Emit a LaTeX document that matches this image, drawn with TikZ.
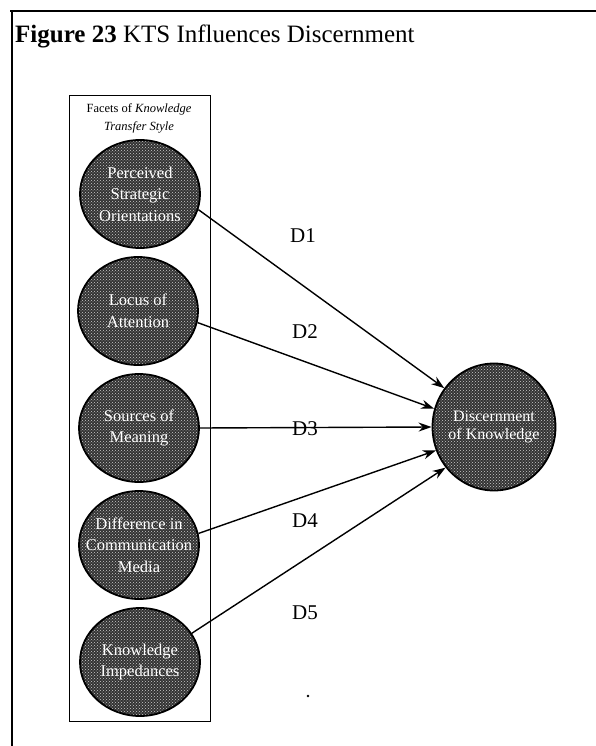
\documentclass[tikz,border=0pt]{standalone}
\usepackage{fontspec}
\setmainfont{Liberation Serif}
\usetikzlibrary{shapes.geometric,arrows.meta,patterns}
\begin{document}
\begin{tikzpicture}[x=1pt,y=-1pt,
  facet/.style={ellipse, draw=black, line width=1.8pt,
    minimum width=120pt, minimum height=108pt, inner sep=0pt,
    preaction={fill=black!80},
    pattern=crosshatch dots, pattern color=white!80!black},
  facettext/.style={text=white, align=center, inner sep=0pt,
    font=\fontsize{16.5}{21.5}\selectfont},
  link/.style={line width=1.4pt, -{Stealth[length=13pt,width=9pt]}},
  dlabel/.style={font=\fontsize{21}{24}\selectfont, anchor=center}]
  \useasboundingbox (0,0) rectangle (596,746);
  % open frame: top and left rules
  \draw[line width=2.6pt] (10,11) -- (596,11);
  \draw[line width=2.6pt] (12,11) -- (12,746);
  % title
  \node[anchor=base west, inner sep=0pt, font=\fontsize{25}{28}\selectfont]
    (title) at (15,43) {\textbf{Figure 23} KTS Influences Discernment};
  % box holding the facets
  \node[draw=black, line width=0.8pt, minimum width=141pt, minimum height=626pt,
    inner sep=0pt] (facetbox) at (139.5,408) {};
  \node[align=center, font=\fontsize{12.5}{18}\selectfont, inner sep=0pt]
    (boxtitle) at (139,118) {Facets of \textit{Knowledge}\\\textit{Transfer Style}};
  % facets
  \node[facet] (f1) at (140,194) {};
  \node[facet] (f2) at (138,311) {};
  \node[facet] (f3) at (139,428) {};
  \node[facet] (f4) at (139,545) {};
  \node[facet] (f5) at (140,662) {};
  \node[facettext] (t1) at (f1) {Perceived\\Strategic\\Orientations};
  \node[facettext] (t2) at (f2) {Locus of\\Attention};
  \node[facettext] (t3) at (f3) {Sources of\\Meaning};
  \node[facettext] (t4) at (f4) {Difference in\\Communication\\Media};
  \node[facettext] (t5) at (f5) {Knowledge\\Impedances};
  % outcome
  \node[facet, minimum width=123pt, minimum height=127pt] (dk) at (494,427) {};
  \node[facettext, font=\fontsize{16}{18}\selectfont] (tk) at (dk)
    {Discernment\\of Knowledge};
  % influences
  \draw[link] (f1.-15) -- (dk.142);
  \draw[link] (f2.-11) -- (dk.163);
  \draw[link] (f3.0) -- (dk.180);
  \draw[link] (f4.11) -- (dk.202);
  \draw[link] (f5.29) -- (dk.220);
  \node[dlabel] (d1) at (303,236) {D1};
  \node[dlabel] (d2) at (305,332) {D2};
  \node[dlabel] (d3) at (305,429) {D3};
  \node[dlabel] (d4) at (305,521) {D4};
  \node[dlabel] (d5) at (305,613) {D5};
  % stray mark
  \fill (308,696) circle (1.3pt);
\end{tikzpicture}
\end{document}
